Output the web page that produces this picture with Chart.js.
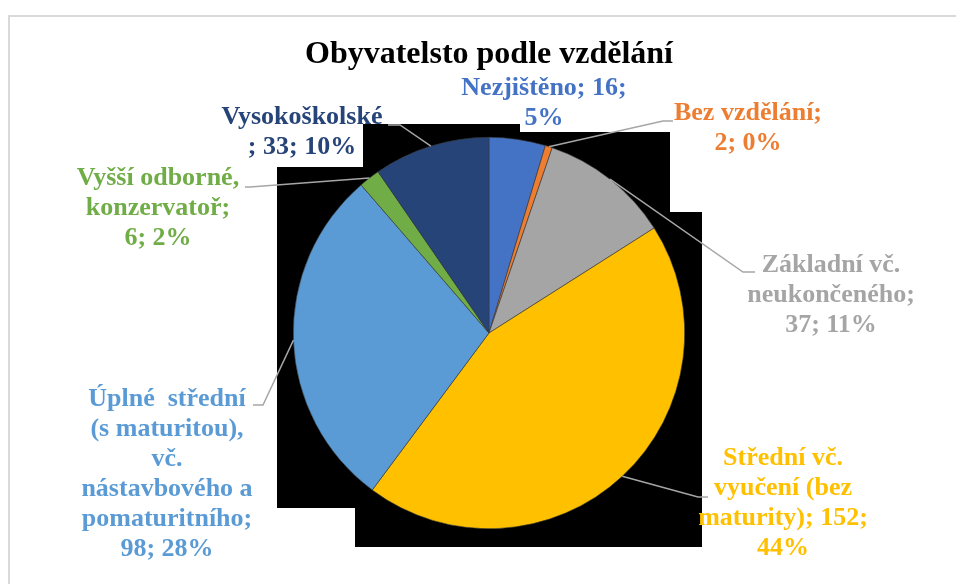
<!DOCTYPE html>
<html>
<head>
<meta charset="utf-8">
<title>Obyvatelsto podle vzdělání</title>
<script src="https://cdn.jsdelivr.net/npm/chart.js@4.4.1/dist/chart.umd.min.js"></script>
<style>
    html, body { margin: 0; padding: 0; background: #fff; }
    #wrap { position: relative; width: 956px; height: 584px; }
</style>
</head>
<body>
<div id="wrap"><canvas id="eduChart"></canvas></div>
<script>
// Data
const categories = [
    'Nezjištěno',
    'Bez vzdělání',
    'Základní vč. neukončeného',
    'Střední vč. vyučení (bez maturity)',
    'Úplné  střední (s maturitou), vč. nástavbového a pomaturitního',
    'Vyšší odborné, konzervatoř',
    'Vysokoškolské '
];
const counts = [16, 2, 37, 152, 98, 6, 33];
const percents = [5, 0, 11, 44, 28, 2, 10];
const sliceColors = ['#4472C4', '#ED7D31', '#A5A5A5', '#FFC000', '#5B9BD5', '#70AD47', '#264478'];

// How each data label wraps: number of words on each line
const labelWordsPerLine = [
    [2, 1],
    [2, 2],
    [2, 1, 2],
    [2, 2, 2, 1],
    [3, 2, 1, 2, 1, 2],
    [2, 1, 2],
    [1, 3]
];

// Label placement relative to the pie centre (first line centre, leader elbow and end)
const labelLayout = [
    { x: 55, y: -245 },
    { x: 259, y: -220, elbow: [174, -212], end: [184, -212] },
    { x: 342, y: -68, elbow: [254, -61], end: [266, -61] },
    { x: 294, y: 125, elbow: [209, 164], end: [219, 164] },
    { x: -322, y: 66, elbow: [-226, 72], end: [-236, 72] },
    { x: -331, y: -155, elbow: [-239, -146], end: [-244, -146] },
    { x: -187, y: -216, elbow: [-89, -208], end: [-101, -208] }
];

// Black backdrop behind the pie (outline relative to pie centre)
const backdrop = [
    [-126, -209], [31, -209], [31, -201], [181, -201], [181, -121], [213, -121],
    [213, 214], [-134, 214], [-134, 175], [-212, 175], [-212, -166], [-126, -166]
];

const labelFont = 'bold 26px "Liberation Serif", "Times New Roman", serif';
const lineHeight = 30;

function buildLabelLines(i) {
    const words = `${categories[i]}; ${counts[i]}; ${percents[i]}%`.split(' ');
    const lines = [];
    let pos = 0;
    labelWordsPerLine[i].forEach(n => {
        lines.push(words.slice(pos, pos + n).join(' '));
        pos += n;
    });
    return lines;
}

// Frame, backdrop and data labels
const pieDecor = {
    id: 'pieDecor',
    beforeDraw(chart) {
        const ctx = chart.ctx;
        ctx.save();
        ctx.strokeStyle = '#D9D9D9';
        ctx.lineWidth = 2;
        ctx.strokeRect(9, 16, 980, 620);
        ctx.restore();
    },
    beforeDatasetsDraw(chart) {
        const arc = chart.getDatasetMeta(0).data[0];
        const ctx = chart.ctx;
        ctx.save();
        ctx.fillStyle = '#000';
        ctx.beginPath();
        backdrop.forEach((p, k) => {
            if (k === 0) ctx.moveTo(arc.x + p[0], arc.y + p[1]);
            else ctx.lineTo(arc.x + p[0], arc.y + p[1]);
        });
        ctx.closePath();
        ctx.fill();
        ctx.restore();
    },
    afterDatasetsDraw(chart) {
        const meta = chart.getDatasetMeta(0);
        const ctx = chart.ctx;
        ctx.save();
        meta.data.forEach((arc, i) => {
            const cx = arc.x, cy = arc.y;
            const layout = labelLayout[i];

            // leader line from the slice's outer edge
            if (layout.elbow) {
                const mid = (arc.startAngle + arc.endAngle) / 2;
                const r = arc.outerRadius;
                ctx.strokeStyle = '#A6A6A6';
                ctx.lineWidth = 1.5;
                ctx.beginPath();
                ctx.moveTo(cx + Math.cos(mid) * r, cy + Math.sin(mid) * r);
                ctx.lineTo(cx + layout.elbow[0], cy + layout.elbow[1]);
                ctx.lineTo(cx + layout.end[0], cy + layout.end[1]);
                ctx.stroke();
            }

            ctx.font = labelFont;
            ctx.fillStyle = sliceColors[i];
            ctx.textAlign = 'center';
            ctx.textBaseline = 'middle';
            buildLabelLines(i).forEach((line, k) => {
                ctx.fillText(line, cx + layout.x, cy + layout.y + k * lineHeight);
            });
        });
        ctx.restore();
    }
};

const chart = new Chart(document.getElementById('eduChart'), {
    type: 'pie',
    data: {
        labels: categories,
        datasets: [{
            data: counts,
            backgroundColor: sliceColors,
            borderColor: '#3a3a3a',
            borderWidth: 0.6,
            hoverOffset: 0
        }]
    },
    options: {
        responsive: true,
        maintainAspectRatio: false,
        animation: false,
        layout: {
            padding: { left: 22, right: 0, top: 0, bottom: 55 }
        },
        plugins: {
            legend: { display: false },
            tooltip: { enabled: false },
            title: {
                display: true,
                text: 'Obyvatelsto podle vzdělání',
                color: '#000',
                font: { family: '"Liberation Serif", "Times New Roman", serif', size: 32, weight: 'bold', lineHeight: 1.2 },
                padding: { top: 36, bottom: 62.6 }
            }
        }
    },
    plugins: [pieDecor]
});
</script>
</body>
</html>
